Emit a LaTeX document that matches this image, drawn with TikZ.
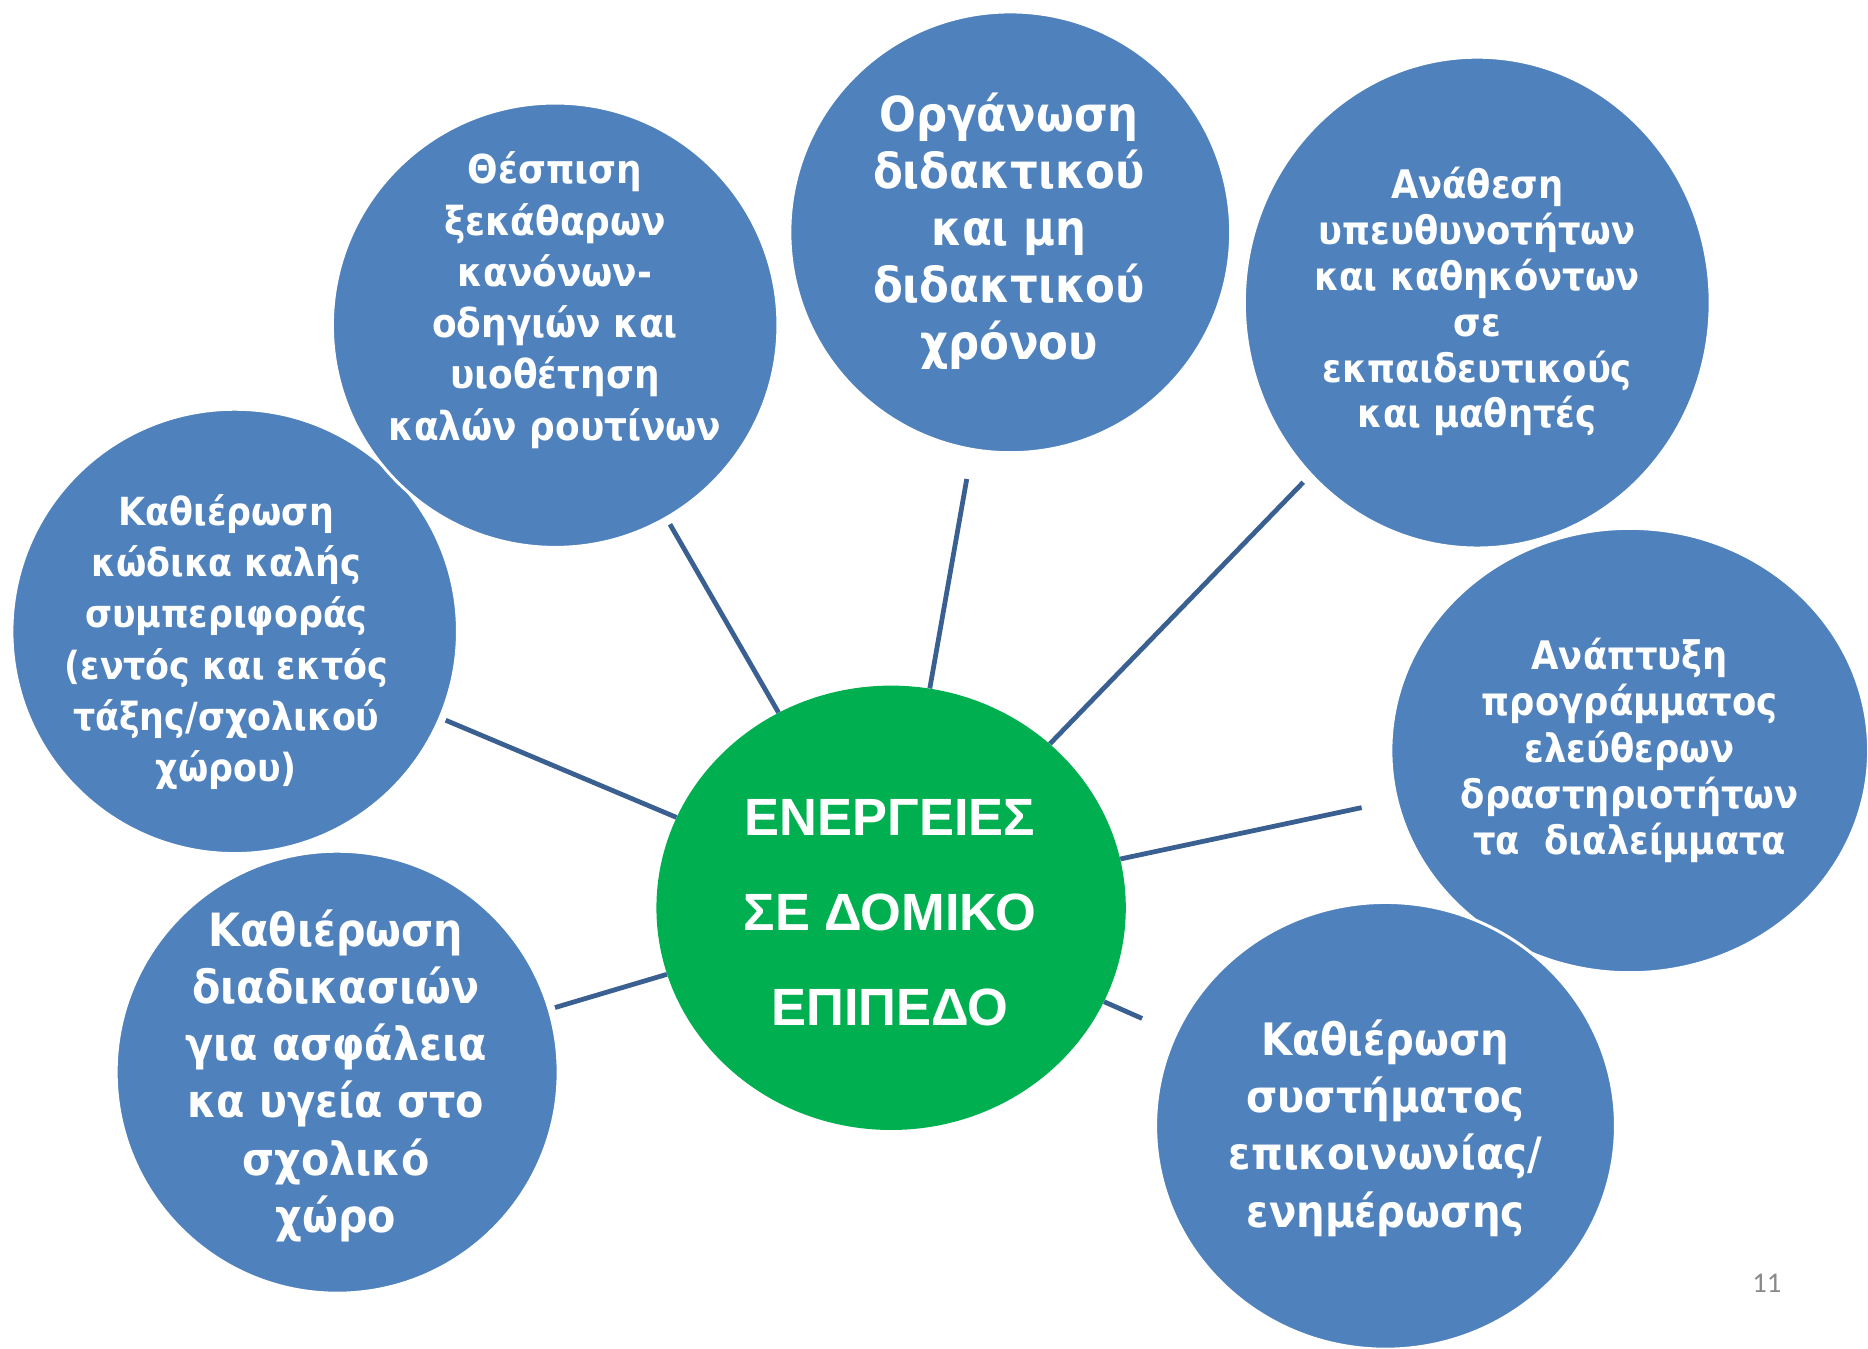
\documentclass[tikz,border=0pt]{standalone}
\usepackage{fontspec}
\setmainfont{DejaVu Sans Condensed}
\newfontfamily\arialfont{Liberation Sans}
\newfontfamily\carlfont{Carlito}
\usetikzlibrary{shapes.geometric}
\definecolor{cblue}{RGB}{79,129,189}
\definecolor{cgreen}{RGB}{0,176,80}
\definecolor{clink}{RGB}{58,95,145}
\definecolor{cnum}{RGB}{137,137,137}
\begin{document}
\begin{tikzpicture}[x=1pt,y=-1pt,
  blob/.style={ellipse, fill=cblue, draw=white, line width=2.5pt, inner sep=0pt},
  hub/.style={ellipse, fill=cgreen, inner sep=0pt},
  txt/.style={text=white, align=center, inner sep=0pt},
  link/.style={draw=clink, line width=4pt}]
\useasboundingbox (0,0) rectangle (1568,1132);
\fill[white] (0,0) rectangle (1568,1132);
% circles
\node[blob, minimum width=374pt, minimum height=373pt] (c4) at (197,530) {};
\node[blob, minimum width=374pt, minimum height=373pt] (c1) at (466,273) {};
\node[blob, minimum width=370pt, minimum height=370pt] (c2) at (848,195) {};
\node[blob, minimum width=391pt, minimum height=412pt] (c3) at (1240,254) {};
\node[blob, minimum width=401pt, minimum height=373pt] (c5) at (1368,630) {};
\node[blob, minimum width=386pt, minimum height=375pt] (c7) at (1163,945) {};
\node[blob, minimum width=371pt, minimum height=371pt] (c6) at (283,900) {};
\node[hub, minimum width=394pt, minimum height=373pt] (g) at (748,762) {};
% connectors
\draw[link, shorten <=5pt] (c1) -- (g);
\draw[link, shorten <=24pt] (c2) -- (g);
\draw[link, shorten <=8pt] (c3) -- (g);
\draw[link, shorten <=4pt] (c4) -- (g);
\draw[link, shorten >=29pt] (g) -- (c5);
\draw[link, shorten <=4pt] (c6) -- (g);
\draw[link, shorten >=30pt] (g) -- (c7);
% texts
\node[txt, font=\fontsize{33.5}{43}\selectfont\bfseries] (t1) at (466,252)
  {Θέσπιση\\ξεκάθαρων\\κανόνων-\\οδηγιών και\\υιοθέτηση\\καλών ρουτίνων};
\node[txt, font=\fontsize{40.5}{48}\selectfont\bfseries] (t2) at (847,194)
  {Οργάνωση\\διδακτικού\\και μη\\διδακτικού\\χρόνου};
\node[txt, font=\fontsize{33}{38.6}\selectfont\bfseries] (t3) at (1240,253)
  {Ανάθεση\\υπευθυνοτήτων\\και καθηκόντων\\σε\\εκπαιδευτικούς\\και μαθητές};
\node[txt, font=\fontsize{32.5}{43}\selectfont\bfseries] (t4) at (190,539)
  {Καθιέρωση\\κώδικα καλής\\συμπεριφοράς\\(εντός και εκτός\\τάξης/σχολικού\\χώρου)};
\node[txt, font=\fontsize{33}{38.75}\selectfont\bfseries] (t5) at (1368,630)
  {Ανάπτυξη\\προγράμματος\\ελεύθερων\\δραστηριοτήτων\\τα\ \ διαλείμματα};
\node[txt, font=\fontsize{38.5}{48}\selectfont\bfseries] (t6) at (282,903)
  {Καθιέρωση\\διαδικασιών\\για ασφάλεια\\κα υγεία στο\\σχολικό\\χώρο};
\node[txt, font=\fontsize{37.5}{48}\selectfont\bfseries] (t7) at (1163,947)
  {Καθιέρωση\\συστήματος\\επικοινωνίας/\\ενημέρωσης};
\node[txt, font=\arialfont\fontsize{44}{80}\selectfont\bfseries] (tg) at (747,766)
  {ΕΝΕΡΓΕΙΕΣ\\ΣΕ ΔΟΜΙΚΟ\\ΕΠΙΠΕΔΟ};
\node[text=cnum, font=\carlfont\fontsize{24}{28}\selectfont, inner sep=0pt] (pg) at (1483,1077) {11};
\end{tikzpicture}
\end{document}
